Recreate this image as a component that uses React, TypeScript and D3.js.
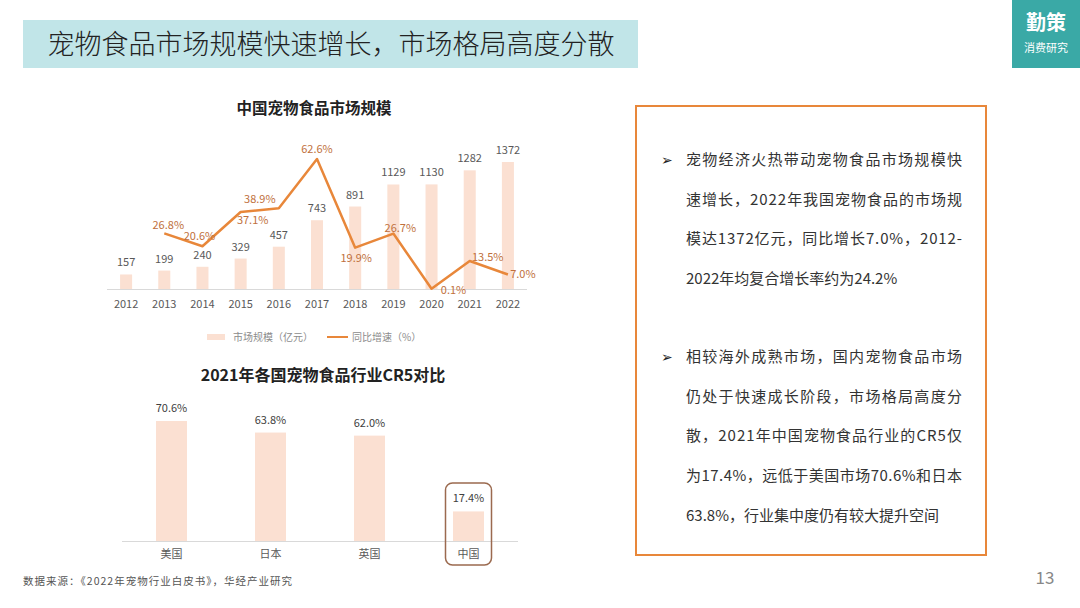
import * as d3 from "d3";

const years = ["2012", "2013", "2014", "2015", "2016", "2017", "2018", "2019", "2020", "2021", "2022"];
const marketSize = [157, 199, 240, 329, 457, 743, 891, 1129, 1130, 1282, 1372];
const growth: (number | null)[] = [null, 26.8, 20.6, 37.1, 38.9, 62.6, 19.9, 26.7, 0.1, 13.5, 7.0];

const countries = ["美国", "日本", "英国", "中国"];
const cr5 = [70.6, 63.8, 62.0, 17.4];

const para1 = [
  "宠物经济火热带动宠物食品市场规模快",
  "速增长，2022年我国宠物食品的市场规",
  "模达1372亿元，同比增长7.0%，2012-",
  "2022年均复合增长率约为24.2%",
];
const para2 = [
  "相较海外成熟市场，国内宠物食品市场",
  "仍处于快速成长阶段，市场格局高度分",
  "散，2021年中国宠物食品行业的CR5仅",
  "为17.4%，远低于美国市场70.6%和日本",
  "63.8%，行业集中度仍有较大提升空间",
];

// label nudges for the growth line (dx, dy from the point)
const growthLabelOffset: [number, number][] = [
  [0, 0], [4, -8], [-3, -10], [12, 8], [-19, -9], [0, -10],
  [1, 10], [7, -6], [22, 1], [18, -4], [15, 0],
];

const SANS = "'Noto Sans CJK SC', 'Noto Sans', sans-serif";
const BAR = "#fbe0d2";
const ORANGE = "#e8873a";

export default function App() {
  // top chart
  const x = d3.scaleBand<string>().domain(years).range([107, 527]).paddingInner(0.685).paddingOuter(0.3425);
  const y = d3.scaleLinear().domain([0, 1372]).range([289, 162]);
  const yg = d3.scaleLinear().domain([0, 62.6]).range([289, 159]);
  const cx = (yr: string) => (x(yr) ?? 0) + x.bandwidth() / 2;

  const linePts = years
    .map((yr, i) => ({ yr, v: growth[i], i }))
    .filter((d) => d.v !== null) as { yr: string; v: number; i: number }[];
  const line = d3
    .line<{ yr: string; v: number }>()
    .x((d) => cx(d.yr))
    .y((d) => yg(d.v));

  // bottom chart
  const xb = d3.scaleBand<string>().domain(countries).range([122, 518]).paddingInner(0.687).paddingOuter(0.3435);
  const yb = d3.scaleLinear().domain([0, 70.6]).range([541, 421]);

  const textX = 686;
  const lineW = 276;

  return (
    <svg width={1080} height={608} style={{ position: "absolute", left: 0, top: 0, background: "#fff" }} fontFamily={SANS}>
      {/* header */}
      <rect x={23} y={20} width={615} height={48} fill="#c1e5e8" />
      <text x={331} y={54} textAnchor="middle" fontSize={27} fill="#222" fontWeight={300}>
        宠物食品市场规模快速增长，市场格局高度分散
      </text>
      <rect x={1012} y={0} width={68} height={68} fill="#3aa9a6" />
      <text x={1046} y={30} textAnchor="middle" fontSize={20} fontWeight={700} fill="#fff">勤策</text>
      <text x={1046} y={52} textAnchor="middle" fontSize={11} fill="#fff">消费研究</text>

      {/* top chart */}
      <text x={314} y={114} textAnchor="middle" fontSize={15.5} fontWeight={700} fill="#222">中国宠物食品市场规模</text>
      {years.map((yr, i) => (
        <g key={yr}>
          <rect x={x(yr)} y={y(marketSize[i])} width={x.bandwidth()} height={289 - y(marketSize[i])} fill={BAR} />
          <text x={cx(yr)} y={y(marketSize[i]) - 8} textAnchor="middle" fontSize={11} fill="#595959">{marketSize[i]}</text>
          <text x={cx(yr)} y={308} textAnchor="middle" fontSize={11} fill="#595959">{yr}</text>
        </g>
      ))}
      <line x1={107} x2={527} y1={289.5} y2={289.5} stroke="#d9d9d9" />
      <path d={line(linePts) ?? ""} fill="none" stroke={ORANGE} strokeWidth={2.5} strokeLinejoin="round" />
      {linePts.map((d) => (
        <text
          key={d.yr}
          x={cx(d.yr) + growthLabelOffset[d.i][0]}
          y={yg(d.v) + growthLabelOffset[d.i][1] + 4}
          textAnchor="middle"
          fontSize={11}
          fill="#c0703c"
        >
          {d.v.toFixed(1)}%
        </text>
      ))}
      {/* legend */}
      <rect x={207} y={334} width={18} height={6} fill={BAR} />
      <text x={233} y={341} fontSize={10} fill="#8c8c8c">市场规模（亿元）</text>
      <line x1={327} x2={348} y1={337} y2={337} stroke={ORANGE} strokeWidth={2} />
      <text x={352} y={341} fontSize={10} fill="#8c8c8c">同比增速（%）</text>

      {/* bottom chart */}
      <text x={323} y={381} textAnchor="middle" fontSize={16} fontWeight={700} fill="#222">2021年各国宠物食品行业CR5对比</text>
      {countries.map((c, i) => (
        <g key={c}>
          <rect x={xb(c)} y={yb(cr5[i])} width={xb.bandwidth()} height={541 - yb(cr5[i])} fill={BAR} />
          <text x={(xb(c) ?? 0) + xb.bandwidth() / 2} y={yb(cr5[i]) - 9} textAnchor="middle" fontSize={11} fill="#404040">
            {cr5[i].toFixed(1)}%
          </text>
          <text x={(xb(c) ?? 0) + xb.bandwidth() / 2} y={558} textAnchor="middle" fontSize={11} fill="#595959">{c}</text>
        </g>
      ))}
      <line x1={122} x2={518} y1={541.5} y2={541.5} stroke="#d9d9d9" />
      <rect
        x={(xb("中国") ?? 0) + xb.bandwidth() / 2 - 23}
        y={483}
        width={46}
        height={82}
        rx={7}
        fill="none"
        stroke="#9b6a4f"
        strokeWidth={1.5}
      />

      {/* text box */}
      <rect x={636} y={106} width={350} height={449} fill="none" stroke={ORANGE} strokeWidth={2} />
      <text x={661} y={165} fontSize={14} fill="#222">➢</text>
      {para1.map((t, i) => (
        <text
          key={t}
          x={textX}
          y={165 + i * 39.7}
          fontSize={15}
          fill="#333"
          textLength={i < para1.length - 1 ? lineW : undefined}
          lengthAdjust="spacing"
        >
          {t}
        </text>
      ))}
      <text x={661} y={362} fontSize={14} fill="#222">➢</text>
      {para2.map((t, i) => (
        <text
          key={t}
          x={textX}
          y={362 + i * 39.7}
          fontSize={15}
          fill="#333"
          textLength={i < para2.length - 1 ? lineW : undefined}
          lengthAdjust="spacing"
        >
          {t}
        </text>
      ))}

      {/* footer */}
      <text x={23} y={585} fontSize={10.5} fill="#555" textLength={269} lengthAdjust="spacing">
        数据来源：《2022年宠物行业白皮书》，华经产业研究
      </text>
      <text x={1045} y={584} textAnchor="middle" fontSize={17} fill="#888">13</text>
    </svg>
  );
}
